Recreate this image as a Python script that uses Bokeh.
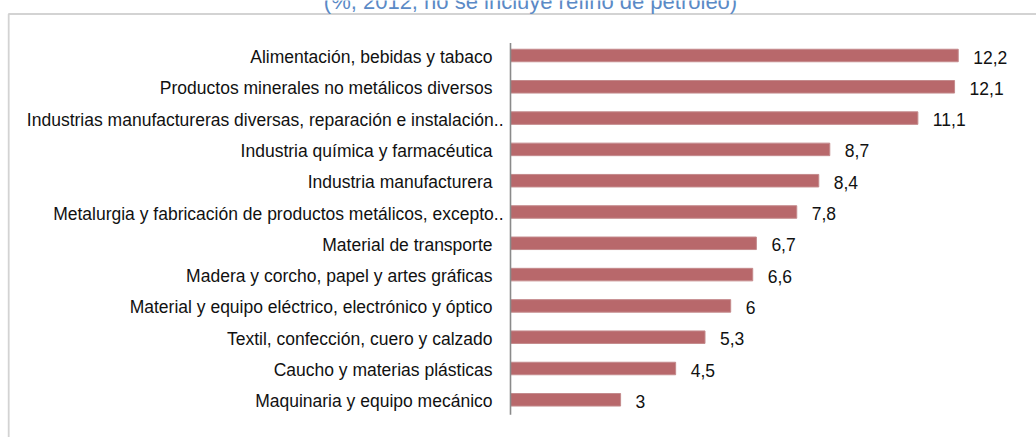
from bokeh.plotting import figure
from bokeh.models import ColumnDataSource, Range1d, Label
from bokeh.core.properties import value
from bokeh.embed import file_html
from bokeh.resources import INLINE

categories = [
    "Alimentación, bebidas y tabaco",
    "Productos minerales no metálicos diversos",
    "Industrias manufactureras diversas, reparación e instalación..",
    "Industria química y farmacéutica",
    "Industria manufacturera",
    "Metalurgia y fabricación de productos metálicos, excepto..",
    "Material de transporte",
    "Madera y corcho, papel y artes gráficas",
    "Material y equipo eléctrico, electrónico y óptico",
    "Textil, confección, cuero y calzado",
    "Caucho y materias plásticas",
    "Maquinaria y equipo mecánico",
]
values = [12.2, 12.1, 11.1, 8.7, 8.4, 7.8, 6.7, 6.6, 6.0, 5.3, 4.5, 3.0]
title_text = "(%, 2012, no se incluye refino de petróleo)"

W, H = 1036, 437
PX_X = 36.7      # pixels per unit on x
X0_PX = 510      # pixel position of zero
PX_Y = 31.3      # pixels per row
TOP_PX = 55      # pixel position of first row centre

n = len(categories)
ys = [n - 1 - i for i in range(n)]

def fmt(v):
    s = ("%.1f" % v).replace(".", ",")
    return s[:-2] if s.endswith(",0") else s

x_start = -X0_PX / PX_X
x_end = (W - X0_PX) / PX_X
y_end = (n - 1) + TOP_PX / PX_Y
y_start = y_end - H / PX_Y

src = ColumnDataSource(dict(
    cat=categories,
    val=values,
    y=ys,
    lab=[fmt(v) for v in values],
    xoff=[-7 if c.endswith("..") else -18 for c in categories],
))

p = figure(width=W, height=H, output_backend="svg", toolbar_location=None,
           x_range=Range1d(x_start, x_end), y_range=Range1d(y_start, y_end),
           min_border=0, min_border_left=0, min_border_right=0,
           min_border_top=0, min_border_bottom=0)
p.axis.visible = False
p.grid.visible = False
p.outline_line_color = None
p.background_fill_color = "white"
p.border_fill_color = "white"

# outer box (only left and top edges visible)
p.quad(left=[x_start + 8.2 / PX_X], right=[x_end + 5], top=[y_end - 13.5 / PX_Y],
       bottom=[y_start - 5], fill_color=None, line_color="#d3d3d3", line_width=1.8)

# bars
p.hbar(y="y", right="val", left=0, height=0.40, source=src,
       fill_color="#b8686b", line_color="#c48a8c", line_width=1)

# axis line
p.segment(x0=[0], y0=[-0.48], x1=[0], y1=[n - 1 + 0.4], line_color="#8a8a8a", line_width=1.6)

# category labels
p.text(x=0, y="y", text="cat", x_offset="xoff", y_offset=1.5, source=src,
       text_align="right", text_baseline="middle",
       text_font=value("Liberation Sans"), text_font_size="17.5px", text_color="#111111")

# value labels
p.text(x="val", y="y", text="lab", x_offset=15, y_offset=1.5, source=src,
       text_align="left", text_baseline="middle",
       text_font=value("Liberation Sans"), text_font_size="17.5px", text_color="#111111")

# title (cut off at the top)
p.add_layout(Label(x=530, y=H - 0.7, x_units="screen", y_units="screen",
                   text=title_text, text_align="center", text_baseline="middle",
                   text_font="Liberation Sans", text_font_size="22px",
                   text_color="#5b8ac6"))

open("out.html", "w").write(file_html(p, INLINE))
